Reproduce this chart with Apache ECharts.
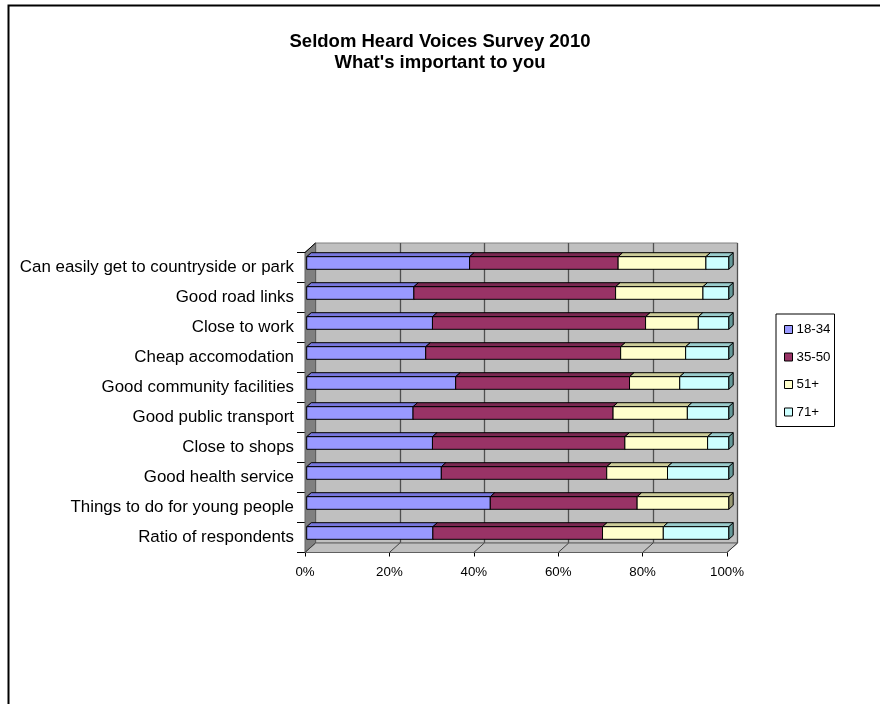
<!DOCTYPE html>
<html>
<head>
<meta charset="utf-8">
<script src="https://cdn.jsdelivr.net/npm/echarts@6/dist/echarts.min.js"></script>
<style>
html,body{margin:0;padding:0;background:#fff;}
#chart{width:880px;height:704px;}
</style>
</head>
<body>
<div id="chart"></div>
<script>
// ---- data ----
const categories = [
  'Can easily get to countryside or park',
  'Good road links',
  'Close to work',
  'Cheap accomodation',
  'Good community facilities',
  'Good public transport',
  'Close to shops',
  'Good health service',
  'Things to do for young people',
  'Ratio of respondents'
];
const seriesNames = ['18-34', '35-50', '51+', '71+'];
const age18_34 = [38.6, 25.4, 29.8, 28.2, 35.3, 25.2, 29.8, 31.9, 43.5, 29.9];
const age35_50 = [35.2, 47.8, 50.5, 46.2, 41.2, 47.4, 45.6, 39.2, 34.8, 40.2];
const age51p   = [20.8, 20.7, 12.5, 15.4, 11.9, 17.6, 19.6, 14.4, 21.7, 14.4];
const age71p   = [5.4, 6.1, 7.2, 10.2, 11.6, 9.8, 5.0, 14.5, 0.0, 15.5];
const xTicks = [0, 20, 40, 60, 80, 100];

// ---- styling ----
const colors = ['#9999FF', '#993366', '#FFFFCC', '#CCFFFF'];
const topColors = ['#7777DD', '#7A2851', '#CCCC99', '#99CCCC'];
const sideColors = ['#5555AA', '#5C1E3D', '#999973', '#669999'];

const allValues = [age18_34, age35_50, age51p, age71p];
const totals = categories.map((c, i) => allValues.reduce((a, arr) => a + arr[i], 0));
const cum = categories.map(() => 0);
const stackedData = allValues.map(arr => arr.map((v, i) => {
  const pct = v / totals[i] * 100;
  const s = cum[i];
  cum[i] += pct;
  return [s, s + pct, i];
}));

const GL = 305, GT = 252.5, GW = 422, GH = 300;
const DX = 10.5, DY = 9.5;
const FONT = 'Liberation Sans, Arial, sans-serif';

function makeRender(si) {
  return function (params, api) {
    const s = api.value(0), e = api.value(1), ci = api.value(2);
    if (e - s <= 0.0001) return;
    const p0 = api.coord([s, ci]);
    const p1 = api.coord([e, ci]);
    const band = api.size([0, 1])[1];
    const h = band * 0.42;
    const fx = 1.7, fy = -band * 0.15;
    const bdx = 4.5, bdy = 4;
    const x0 = p0[0] + fx, x1 = p1[0] + fx;
    const yT = p0[1] + fy - h / 2, yB = yT + h;
    const stroke = {stroke: '#000', lineWidth: 1};
    return {
      type: 'group',
      children: [
        {type: 'polygon', shape: {points: [[x1, yT], [x1 + bdx, yT - bdy], [x1 + bdx, yB - bdy], [x1, yB]]},
         style: Object.assign({fill: sideColors[si]}, stroke)},
        {type: 'polygon', shape: {points: [[x0, yT], [x0 + bdx, yT - bdy], [x1 + bdx, yT - bdy], [x1, yT]]},
         style: Object.assign({fill: topColors[si]}, stroke)},
        {type: 'rect', shape: {x: x0, y: yT, width: x1 - x0, height: h},
         style: Object.assign({fill: colors[si]}, stroke)}
      ]
    };
  };
}

const chart = echarts.init(document.getElementById('chart'));
const option = {
  animation: false,
  backgroundColor: '#fff',
  textStyle: {fontFamily: FONT},
  title: {
    text: 'Seldom Heard Voices Survey 2010\nWhat\'s important to you',
    left: 'center', top: 26,
    textStyle: {fontSize: 18.5, fontWeight: 'bold', color: '#000', lineHeight: 21, fontFamily: FONT}
  },
  legend: {
    orient: 'vertical', left: 776, top: 314,
    padding: [9, 4, 8, 8],
    itemWidth: 8, itemHeight: 8, itemGap: 14.5,
    borderColor: '#000', borderWidth: 1,
    data: seriesNames.map(n => ({name: n, icon: 'rect'})),
    itemStyle: {borderColor: '#000', borderWidth: 1},
    textStyle: {fontSize: 13.3, color: '#000', padding: [0, 0, 0, -1], fontFamily: FONT}
  },
  grid: [
    {left: GL, top: GT, width: GW, height: GH, show: false},
    {left: GL + DX, top: GT - DY, width: GW, height: GH, show: true,
     backgroundColor: '#C0C0C0', borderColor: '#808080', borderWidth: 1}
  ],
  xAxis: [
    {type: 'value', gridIndex: 0, min: 0, max: 100, interval: 20,
     axisLine: {show: true, lineStyle: {color: '#000'}},
     axisTick: {show: true, length: 4, lineStyle: {color: '#000'}},
     axisLabel: {formatter: v => v + '%', fontSize: 13.3, color: '#000', margin: 13, fontFamily: FONT},
     splitLine: {show: false}},
    {type: 'value', gridIndex: 1, min: 0, max: 100, interval: 20,
     axisLine: {show: false}, axisTick: {show: false}, axisLabel: {show: false},
     splitLine: {show: true, lineStyle: {color: '#505050', width: 1.3}}}
  ],
  yAxis: [
    {type: 'category', gridIndex: 0, data: categories, inverse: true,
     axisLine: {show: true, lineStyle: {color: '#000'}},
     axisTick: {show: true, length: 8, lineStyle: {color: '#000'}},
     axisLabel: {fontSize: 16.9, color: '#000', margin: 11, fontFamily: FONT},
     splitLine: {show: false}},
    {type: 'value', gridIndex: 1, show: false, splitLine: {show: false}}
  ],
  series: seriesNames.map((n, si) => ({
    name: n, type: 'custom', xAxisIndex: 0, yAxisIndex: 0, z: 10,
    itemStyle: {color: colors[si], borderColor: '#000', borderWidth: 1},
    encode: {x: [0, 1], y: 2},
    renderItem: makeRender(si),
    data: stackedData[si]
  }))
};
chart.setOption(option);

// decoration: side wall, floor, floor grid lines, outer frame
const graphics = [];
const yTop = GT, yBot = GT + GH;
graphics.push({type: 'polygon', z: 1, shape: {points: [[GL, yTop], [GL + DX, yTop - DY], [GL + DX, yBot - DY], [GL, yBot]]},
  style: {fill: '#808080', stroke: '#606060', lineWidth: 1}});
graphics.push({type: 'polygon', z: 1, shape: {points: [[GL, yBot], [GL + DX, yBot - DY], [GL + DX + GW, yBot - DY], [GL + GW, yBot]]},
  style: {fill: '#C0C0C0', stroke: '#606060', lineWidth: 1}});
xTicks.forEach(t => {
  const fx = chart.convertToPixel({xAxisIndex: 0}, t);
  graphics.push({type: 'line', z: 2, shape: {x1: fx, y1: yBot, x2: fx + DX, y2: yBot - DY},
    style: {stroke: '#404040', lineWidth: 1}});
});
graphics.push({type: 'line', z: 2, shape: {x1: GL - 8, y1: yTop, x2: GL, y2: yTop}, style: {stroke: '#000', lineWidth: 1}});
graphics.push({type: 'line', z: 2, shape: {x1: GL, y1: yTop, x2: GL + DX, y2: yTop - DY}, style: {stroke: '#000', lineWidth: 1}});
graphics.push({type: 'rect', z: 0, shape: {x: 8.5, y: 5.5, width: 1000, height: 1000},
  style: {fill: 'none', stroke: '#000', lineWidth: 2}});
chart.setOption({graphic: graphics});
</script>
</body>
</html>
